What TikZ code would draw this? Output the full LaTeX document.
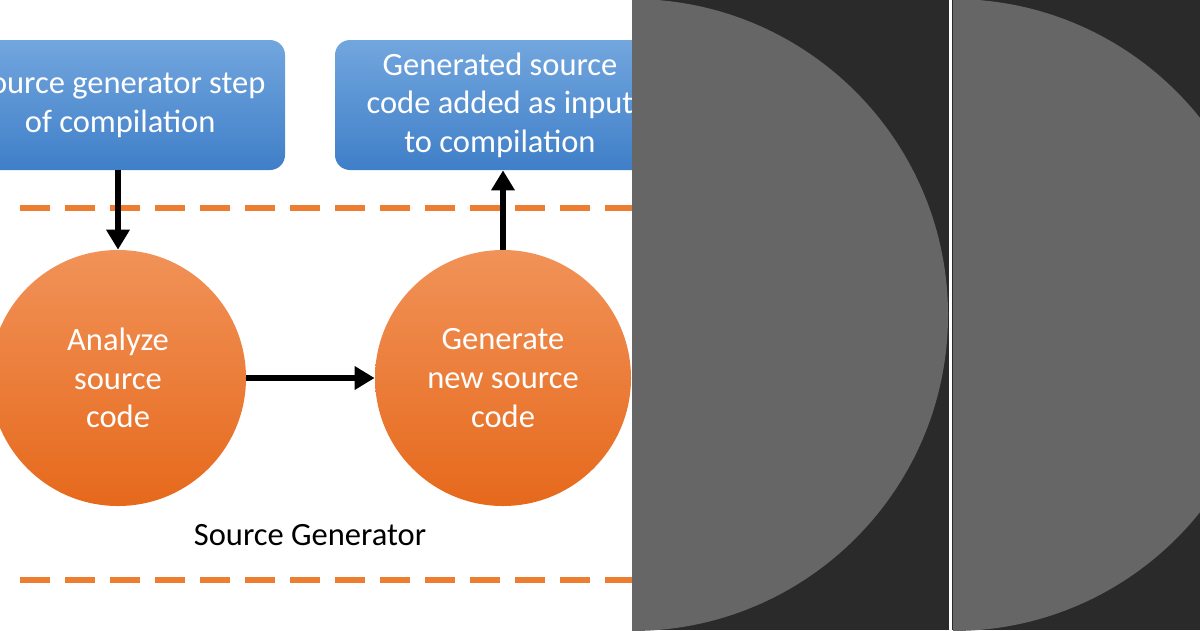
\documentclass[tikz,border=0pt]{standalone}
\usepackage{fontspec}
\setmainfont{Carlito}
\usetikzlibrary{positioning,arrows.meta}
\definecolor{boxtop}{HTML}{72A6DE}
\definecolor{boxbot}{HTML}{3F7FC8}
\definecolor{orgtop}{HTML}{F19258}
\definecolor{orgbot}{HTML}{E6691C}
\definecolor{dashorg}{HTML}{ED7D31}
\definecolor{panel}{HTML}{2A2A2A}
\definecolor{disc}{HTML}{666666}
\tikzset{
  stage/.style={rounded corners=0.3cm, top color=boxtop, bottom color=boxbot, draw=none,
    text=white, align=center, font=\fontsize{18.5}{22}\selectfont},
  blob/.style={circle, minimum size=5.12cm, top color=orgtop, bottom color=orgbot, draw=none,
    text=white, align=center, font=\fontsize{18.5}{22}\selectfont},
  flow/.style={line width=0.12cm, -{Triangle[length=0.4cm,width=0.45cm]}},
  sep/.style={dashorg, line width=0.12cm, dash pattern=on 0.6cm off 0.3cm}
}
\begin{document}
\begin{tikzpicture}
        \useasboundingbox (0,0) rectangle (24,12.6);
        \clip (0,0) rectangle (24,12.6);

        % steps of compilation:
        \node(STEP)[stage, minimum width=8cm, minimum height=2.6cm] at (1.7,10.5)
          {\phantom{xxxxx}Source generator step\\ \phantom{xxxxx}of compilation};
        \node(INPUT)[stage, minimum width=6.6cm, minimum height=2.6cm] at (10.0,10.5)
          {Generated source\\code added as input\\to compilation};

        % dark side
        \fill[panel] (12.64,0) rectangle (24,12.6);
        \begin{scope}
          \clip (12.64,0) rectangle (18.98,12.6);
          \fill[disc] (12.64,6.3) circle (6.32);
        \end{scope}
        \fill[white] (18.98,0) rectangle (19.04,12.6);
        \begin{scope}
          \clip (19.06,0) rectangle (24,12.6);
          \fill[disc] (19.06,6.3) circle (6.32);
        \end{scope}

        % separators:
        \draw[sep] (0.4,8.44) -- (12.64,8.44);
        \draw[sep] (0.4,1.0) -- (12.64,1.0);

        % source generator:
        \node(ANA)[blob] at (2.36,5.04) {Analyze\\source\\code};
        \node(GEN)[blob] at (10.06,5.04) {Generate\\new source\\code};
        \node(SG) at (6.2,1.9) {\fontsize{18.5}{22}\selectfont Source Generator};

        \draw[flow] (STEP.south -| ANA) -- (ANA);
        \draw[flow] (ANA) -- (GEN);
        \draw[flow] (GEN) -- (INPUT.south -| GEN);

\end{tikzpicture}
\end{document}
